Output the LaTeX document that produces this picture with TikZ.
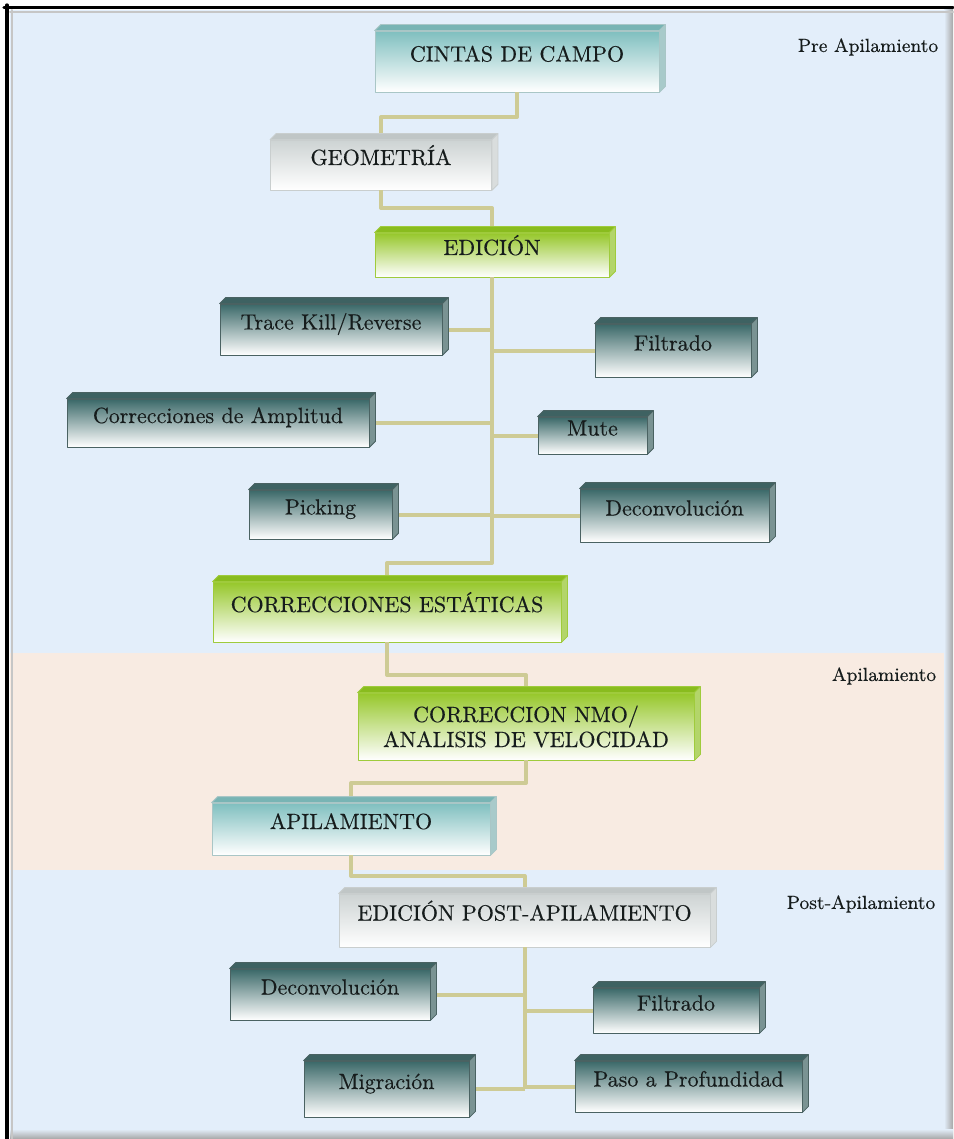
\documentclass[tikz,border=0pt]{standalone}
\usepackage{fontspec}
\usepackage{tikz}
\usetikzlibrary{calc}
\newfontfamily\cajafont{Latin Modern Roman}[FakeBold=0.35]

\definecolor{fondoazul}{HTML}{E3EEFA}
\definecolor{fondorosa}{HTML}{F8EBE2}
\definecolor{enlace}{HTML}{CECB95}
\definecolor{texto}{HTML}{161C1C}
\definecolor{tealfront}{HTML}{7FBFBF}
\definecolor{tealmid}{HTML}{C4E2E2}
\definecolor{tealline}{HTML}{A9C6C6}
\definecolor{tealtop}{HTML}{78B4B4}
\definecolor{tealside}{HTML}{A8CACA}
\definecolor{greyfront}{HTML}{CDD3D3}
\definecolor{greymid}{HTML}{E8EBEB}
\definecolor{greyline}{HTML}{C9CECE}
\definecolor{greytop}{HTML}{C0C6C6}
\definecolor{greyside}{HTML}{D9DDDD}
\definecolor{greenfront}{HTML}{96C72A}
\definecolor{greenmid}{HTML}{CFE79A}
\definecolor{greenline}{HTML}{9FCB3C}
\definecolor{greentop}{HTML}{89BC1E}
\definecolor{greenside}{HTML}{B3D56A}
\definecolor{darkfront}{HTML}{3A6868}
\definecolor{darkmid}{HTML}{A3BBBB}
\definecolor{darkline}{HTML}{4A6262}
\definecolor{darktop}{HTML}{3E6262}
\definecolor{darkside}{HTML}{7A9393}

\begin{document}
\begin{tikzpicture}[line cap=round,line join=round,x=0.5pt,y=-0.5pt,
    caja/.style={rectangle,inner sep=0pt,draw=#1line,line width=0.4pt,
      top color=#1front,middle color=#1mid,bottom color=white,
      text=texto,align=center,font=\cajafont\fontsize{11}{12.5}\selectfont,
      text height=8pt,text depth=8pt},
    etiqueta/.style={text=texto,font=\cajafont\fontsize{9.5}{11}\selectfont,inner sep=0pt},
    enl/.style={draw=enlace,line width=2pt,line cap=butt}]
\useasboundingbox (0,0) rectangle (953,1139);
\fill[white] (0,0) rectangle (953,1139);
\fill[fondoazul] (10,10) rectangle (953,653);
\fill[fondorosa] (10,653) rectangle (953,870);
\fill[fondoazul] (10,870) rectangle (953,1139);
\shade[left color=fondoazul,right color=gray!70] (944,10) rectangle (953,1139);
\shade[top color=fondoazul,bottom color=gray!70] (10,1129) rectangle (953,1139);
\draw[gray!45,line width=1pt] (10,12) -- (953,12);
\draw[gray!45,line width=1pt] (12,10) -- (12,1139);
\draw[black,line width=1.6pt] (4,7.5) -- (953,7.5);
\draw[black,line width=1.6pt] (7,5) -- (7,1139);

\node[caja=teal,minimum width=142pt,minimum height=30.5pt] (cintas) at (517,61.5) {CINTAS DE CAMPO};
\node[caja=grey,minimum width=110.5pt,minimum height=25pt] (geom) at (381,165) {GEOMETRÍA};
\node[caja=green,minimum width=117pt,minimum height=22pt] (edicion) at (492,255) {EDICIÓN};
\node[caja=dark,minimum width=111pt,minimum height=25.5pt] (trace) at (331,329.5) {Trace Kill/Reverse};
\node[caja=dark,minimum width=78pt,minimum height=26.5pt] (filtA) at (673,350.5) {Filtrado};
\node[caja=dark,minimum width=151pt,minimum height=24pt] (ampl) at (218,423) {Correcciones de Amplitud};
\node[caja=dark,minimum width=54.5pt,minimum height=18.5pt] (mute) at (592.5,435.5) {Mute};
\node[caja=dark,minimum width=71.5pt,minimum height=24.5pt] (pick) at (320.5,514.5) {Picking};
\node[caja=dark,minimum width=94.5pt,minimum height=26.5pt] (deconA) at (674.5,515.5) {Deconvolución};
\node[caja=green,minimum width=174pt,minimum height=30pt] (estat) at (387,612) {CORRECCIONES ESTÁTICAS};
\node[caja=green,minimum width=168pt,minimum height=33.5pt,text height=,text depth=] (nmo) at (526,726.5) {CORRECCION NMO/\\ANALISIS DE VELOCIDAD};
\node[caja=teal,minimum width=139pt,minimum height=26pt] (apil) at (351,829) {APILAMIENTO};
\node[caja=grey,minimum width=185.5pt,minimum height=26.5pt] (post) at (524.5,920.5) {EDICIÓN POST-APILAMIENTO};
\node[caja=dark,minimum width=100pt,minimum height=25.5pt] (deconB) at (330,994.5) {Deconvolución};
\node[caja=dark,minimum width=83pt,minimum height=22.5pt] (filtB) at (676,1010.5) {Filtrado};
\node[caja=dark,minimum width=82.5pt,minimum height=28pt] (migr) at (386.5,1089) {Migración};
\node[caja=dark,minimum width=113.5pt,minimum height=25.5pt] (paso) at (688.5,1086.5) {Paso a Profundidad};

\node[etiqueta] (pre) at (868,47) {Pre Apilamiento};
\node[etiqueta] (api) at (884,676) {Apilamiento};
\node[etiqueta] (postap) at (861,904) {Post-Apilamiento};

\coordinate (q1) at (0,117);
\coordinate (q2) at (0,208);
\coordinate (q3) at (0,563);
\coordinate (q4) at (0,675);
\coordinate (q5) at (0,783);
\coordinate (q6) at (0,876);

\draw[enl] (cintas.south) -- (cintas.south |- q1) -| (geom.north);
\draw[enl] (geom.south) -- (geom.south |- q2) -| (edicion.north);
\draw[enl] (edicion.south) -- (edicion.south |- q3) -| (estat.north);
\foreach \n in {trace,ampl,pick}
  \draw[enl] (\n.east) -- (\n.east -| edicion.south);
\foreach \n in {filtA,mute,deconA}
  \draw[enl] (\n.west) -- (\n.west -| edicion.south);
\draw[enl] (estat.south) -- (estat.south |- q4) -| (nmo.north);
\draw[enl] (nmo.south) -- (nmo.south |- q5) -| (apil.north);
\draw[enl] (apil.south) -- (apil.south |- q6) -| (post.north);
\draw[enl] (post.south) -- (post.south |- migr.east);
\foreach \n in {deconB,migr}
  \draw[enl] (\n.east) -- (\n.east -| post.south);
\foreach \n in {filtB,paso}
  \draw[enl] (\n.west) -- (\n.west -| post.south);

\foreach \n/\kind in {cintas/teal,geom/grey,edicion/green,trace/dark,filtA/dark,ampl/dark,
    mute/dark,pick/dark,deconA/dark,estat/green,nmo/green,apil/teal,post/grey,
    deconB/dark,filtB/dark,migr/dark,paso/dark}{
  \filldraw[fill=\kind top,draw=\kind line,line width=0.4pt] (\n.north west) -- ++(3pt,3pt)
    -- ([shift={(3pt,3pt)}]\n.north east) -- (\n.north east) -- cycle;
  \filldraw[fill=\kind side,draw=\kind line,line width=0.4pt] (\n.north east) -- ([shift={(3pt,3pt)}]\n.north east)
    -- ([shift={(3pt,3pt)}]\n.south east) -- (\n.south east) -- cycle;
}
\end{tikzpicture}
\end{document}
